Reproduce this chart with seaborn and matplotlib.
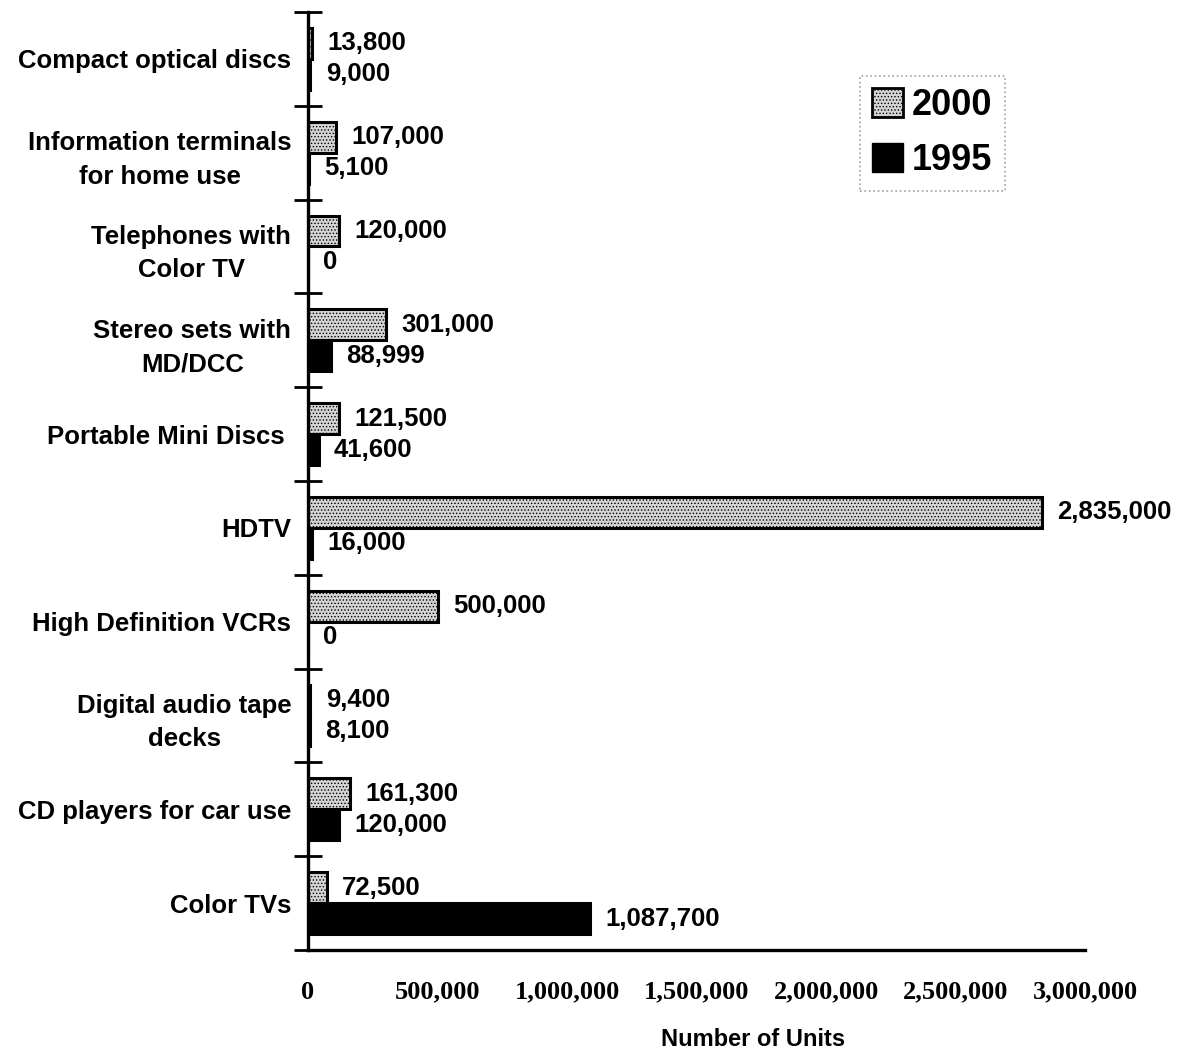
import matplotlib
matplotlib.use("Agg")
import matplotlib.pyplot as plt
import seaborn as sns
import pandas as pd
from matplotlib.ticker import FuncFormatter, FixedLocator
from matplotlib.patches import Patch

categories = [
    "Compact optical discs",
    "Information terminals\nfor home use",
    "Telephones with\nColor TV",
    "Stereo sets with\nMD/DCC",
    "Portable Mini Discs ",
    "HDTV",
    "High Definition VCRs",
    "Digital audio tape\ndecks",
    "CD players for car use",
    "Color TVs",
]
units_2000 = [13800, 107000, 120000, 301000, 121500, 2835000, 500000, 9400, 161300, 72500]
units_1995 = [9000, 5100, 0, 88999, 41600, 16000, 0, 8100, 120000, 1087700]
series = ["2000", "1995"]
x_ticks = [0, 500000, 1000000, 1500000, 2000000, 2500000, 3000000]

df = pd.concat([
    pd.DataFrame({"cat": categories, "year": "2000", "units": units_2000}),
    pd.DataFrame({"cat": categories, "year": "1995", "units": units_1995}),
])

sns.set_theme(style="white")
plt.rcParams["font.family"] = ["Liberation Sans", "DejaVu Sans"]
plt.rcParams["text.color"] = "black"
plt.rcParams["axes.labelcolor"] = "black"
plt.rcParams["xtick.color"] = "black"
plt.rcParams["ytick.color"] = "black"
plt.rcParams["hatch.linewidth"] = 0.6

GRAY = "#d4d4d4"
HATCH = "....."

fig = plt.figure(figsize=(11.82, 10.49), dpi=100)
ax = fig.add_axes([0.2606, 0.0944, 0.6574, 0.8942])

sns.barplot(data=df, y="cat", x="units", hue="year", hue_order=series,
            palette={"2000": GRAY, "1995": "#000000"}, order=categories,
            orient="h", width=0.66, dodge=True, ax=ax, edgecolor="black",
            linewidth=2.2, saturation=1, legend=False)

for p in ax.containers[0]:
    p.set_hatch(HATCH)

for cont in ax.containers:
    labels = [f"{int(v):,}" for v in cont.datavalues]
    ax.bar_label(cont, labels=labels, padding=11, fontsize=18.5, fontweight="bold",
                 color="black")

ax.set_xlim(0, 3000000)
ax.set_ylim(9.5, -0.5)
ax.xaxis.set_major_locator(FixedLocator(x_ticks))
ax.xaxis.set_major_formatter(FuncFormatter(lambda v, p: f"{int(v):,}"))
for t in ax.get_xticklabels():
    t.set_family(["Liberation Serif"])
    t.set_fontweight("bold")
    t.set_fontsize(19)
ax.tick_params(axis="x", direction="inout", length=18, width=2, pad=13)

ax.set_yticks(range(len(categories)))
ax.set_yticklabels(categories, fontsize=18.5, fontweight="bold",
                   multialignment="center", linespacing=1.5)
ax.tick_params(axis="y", which="major", length=0, pad=12)
ax.set_yticks([i - 0.5 for i in range(len(categories) + 1)], minor=True)
ax.tick_params(axis="y", which="minor", direction="inout", length=20, width=2, left=True)

for s in ["top", "right"]:
    ax.spines[s].set_visible(False)
for s in ["left", "bottom"]:
    ax.spines[s].set_linewidth(2.4)
    ax.spines[s].set_color("black")

ax.set_ylabel("")
ax.set_xlabel("Number of Units", fontsize=17, fontweight="bold")
ax.xaxis.set_label_coords(0.573, -0.083)
ax.xaxis.label.set_va("top")

handles = [Patch(facecolor=GRAY, edgecolor="black", linewidth=2, hatch=HATCH, label="2000"),
           Patch(facecolor="black", edgecolor="black", label="1995")]
leg = ax.legend(handles=handles, loc="upper right", bbox_to_anchor=(0.897, 0.932),
                borderaxespad=0, prop={"weight": "bold", "size": 26},
                handlelength=0.85, handleheight=0.85, handletextpad=0.25,
                labelspacing=0.55, fancybox=False, borderpad=0.35)
fr = leg.get_frame()
fr.set_edgecolor("#888888")
fr.set_linestyle(":")
fr.set_linewidth(1.2)

fig.savefig("out.png", dpi=100)
